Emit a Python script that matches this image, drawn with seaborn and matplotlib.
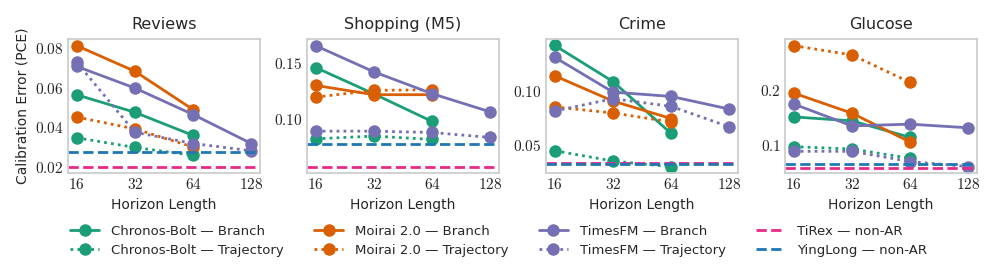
import seaborn as sns
import matplotlib
matplotlib.use("Agg")
import matplotlib.pyplot as plt
import pandas as pd
from matplotlib.lines import Line2D
from matplotlib.ticker import FuncFormatter, FixedLocator, NullLocator

datasets = ["Reviews", "Shopping (M5)", "Crime", "Glucose"]
horizons = [16, 32, 64, 128]
models = ["Chronos-Bolt", "Moirai 2.0", "TimesFM"]
modes = ["Branch", "Trajectory"]

# PCE per dataset, per horizon (None = not evaluated)
chronos_branch = {
    "Reviews": [0.0565, 0.0476, 0.0359, None],
    "Shopping (M5)": [0.1459, 0.1225, 0.0980, None],
    "Crime": [0.1423, 0.1089, 0.0608, None],
    "Glucose": [0.1515, 0.1442, 0.1140, None],
}
chronos_traj = {
    "Reviews": [0.0347, 0.0298, 0.0258, None],
    "Shopping (M5)": [0.0826, 0.0850, 0.0820, None],
    "Crime": [0.0448, 0.0353, 0.0300, None],
    "Glucose": [0.0970, 0.0927, 0.0758, None],
}
moirai_branch = {
    "Reviews": [0.0814, 0.0684, 0.0490, None],
    "Shopping (M5)": [0.1300, 0.1218, 0.1218, None],
    "Crime": [0.1142, 0.0908, 0.0746, None],
    "Glucose": [0.1950, 0.1582, 0.1055, None],
}
moirai_traj = {
    "Reviews": [0.0452, 0.0392, 0.0300, None],
    "Shopping (M5)": [0.1197, 0.1256, 0.1262, None],
    "Crime": [0.0853, 0.0798, 0.0715, None],
    "Glucose": [0.2818, 0.2649, 0.2145, None],
}
timesfm_branch = {
    "Reviews": [0.0709, 0.0599, 0.0465, 0.0318],
    "Shopping (M5)": [0.1653, 0.1421, 0.1227, 0.1065],
    "Crime": [0.1313, 0.0991, 0.0951, 0.0834],
    "Glucose": [0.1750, 0.1350, 0.1382, 0.1315],
}
timesfm_traj = {
    "Reviews": [0.0730, 0.0375, 0.0318, 0.0281],
    "Shopping (M5)": [0.0894, 0.0894, 0.0882, 0.0838],
    "Crime": [0.0816, 0.0930, 0.0859, 0.0669],
    "Glucose": [0.0885, 0.0885, 0.0697, 0.0606],
}
tirex = [0.0200, 0.0579, 0.0338, 0.0582]
yinglong = [0.0273, 0.0782, 0.0323, 0.0655]

ylims = [(0.0169, 0.0849), (0.0523, 0.1715), (0.0243, 0.1485), (0.049, 0.2945)]
yticks = [[0.02, 0.04, 0.06, 0.08], [0.10, 0.15], [0.05, 0.10], [0.1, 0.2]]
yfmt = ["{:.2f}", "{:.2f}", "{:.2f}", "{:.1f}"]

series = {
    ("Chronos-Bolt", "Branch"): chronos_branch,
    ("Chronos-Bolt", "Trajectory"): chronos_traj,
    ("Moirai 2.0", "Branch"): moirai_branch,
    ("Moirai 2.0", "Trajectory"): moirai_traj,
    ("TimesFM", "Branch"): timesfm_branch,
    ("TimesFM", "Trajectory"): timesfm_traj,
}
rows = []
for (m, md), d in series.items():
    for ds, vals in d.items():
        for h, v in zip(horizons, vals):
            if v is not None:
                rows.append({"dataset": ds, "horizon": h, "model": m, "mode": md, "pce": v})
df = pd.DataFrame(rows)

colors = {"Chronos-Bolt": "#1b9e77", "Moirai 2.0": "#d95f02", "TimesFM": "#7570b3"}
c_tirex = "#e7298a"
c_ying = "#1f77b4"
dash_styles = {"Branch": "", "Trajectory": (1, 1.5)}

sns.set_theme(style="white")
plt.rcParams["font.family"] = ["DejaVu Sans"]
plt.rcParams["mathtext.fontset"] = "cm"
plt.rcParams["axes.edgecolor"] = "0.8"
plt.rcParams["axes.linewidth"] = 1.25

fig, axes = plt.subplots(1, 4, figsize=(9.97, 2.71), dpi=100)
fig.subplots_adjust(left=0.0682, right=0.980, top=0.857, bottom=0.362, wspace=0.245)

for i, ds in enumerate(datasets):
    ax = axes[i]
    sub = df[df["dataset"] == ds]
    sns.lineplot(data=sub, x="horizon", y="pce", hue="model", style="mode",
                 palette=colors, dashes=dash_styles, markers={"Branch": "o", "Trajectory": "o"},
                 hue_order=models, style_order=modes,
                 linewidth=2, markersize=9, markeredgewidth=0, legend=False, ax=ax)
    ax.axhline(tirex[i], color=c_tirex, linestyle="--", linewidth=2)
    ax.axhline(yinglong[i], color=c_ying, linestyle="--", linewidth=2)
    ax.set_xscale("log", base=2)
    ax.xaxis.set_major_locator(FixedLocator(horizons))
    ax.xaxis.set_minor_locator(NullLocator())
    ax.xaxis.set_major_formatter(FuncFormatter(lambda v, p: "$%d$" % v))
    ax.set_xlim(2 ** 3.85, 2 ** 7.15)
    ax.set_ylim(*ylims[i])
    ax.yaxis.set_major_locator(FixedLocator(yticks[i]))
    fmt = yfmt[i]
    ax.yaxis.set_major_formatter(FuncFormatter(lambda v, p, fmt=fmt: "$" + fmt.format(v) + "$"))
    ax.tick_params(axis="both", labelsize=11, pad=3, length=0)
    ax.set_title(ds, fontsize=11.5, pad=7)
    ax.set_xlabel("Horizon Length", fontsize=10)
    ax.set_ylabel("Calibration Error (PCE)" if i == 0 else "", fontsize=10)

handles = []
labels = []
for m in models:
    for md in modes:
        handles.append(Line2D([], [], color=colors[m], linewidth=2, marker="o", markersize=9,
                              markeredgewidth=0, dashes=dash_styles[md] if md == "Trajectory" else (None, None)))
        labels.append(f"{m} \u2014 {md}")
handles.append(Line2D([], [], color=c_tirex, linewidth=2, linestyle="--"))
labels.append("TiRex \u2014 non-AR")
handles.append(Line2D([], [], color=c_ying, linewidth=2, linestyle="--"))
labels.append("YingLong \u2014 non-AR")

fig.legend(handles, labels, loc="upper center", bbox_to_anchor=(0.5, 0.215), ncol=4,
           frameon=False, fontsize=9.5, handlelength=2.2, handletextpad=0.9,
           columnspacing=2.3, labelspacing=0.45)

fig.savefig("out.png", dpi=100)
